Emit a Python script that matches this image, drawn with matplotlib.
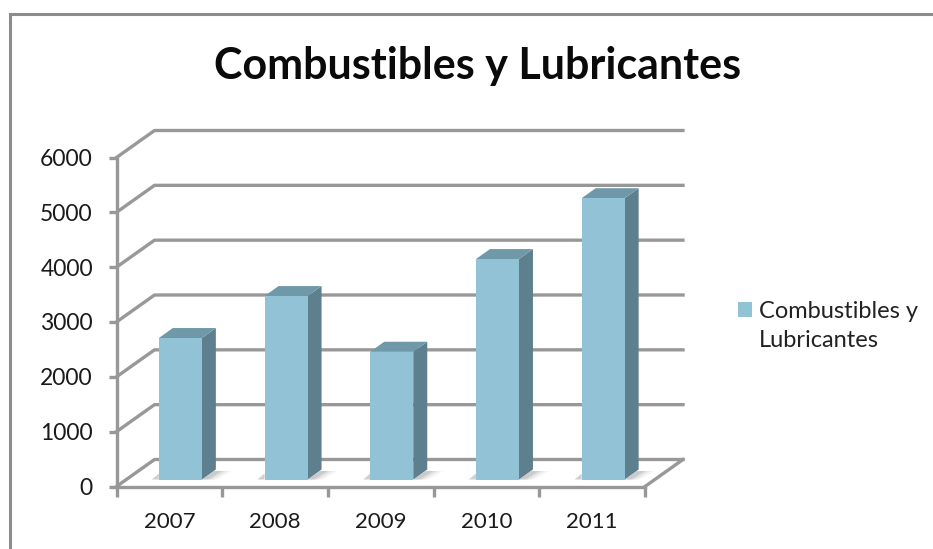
import matplotlib
matplotlib.use('Agg')
from matplotlib import pyplot as plt
from matplotlib.patches import Polygon

plt.rcParams['font.family'] = ['Lato', 'DejaVu Sans']

years = ['2007', '2008', '2009', '2010', '2011']
values = [2580, 3345, 2330, 4020, 5130]
yticks = [0, 1000, 2000, 3000, 4000, 5000, 6000]
series = 'Combustibles y\nLubricantes'

W, H = 933, 549
grid_col = '#989898'
front_col = '#92c2d6'
side_col = '#5e7f8d'
top_col = '#6f98a8'

fig = plt.figure(figsize=(W/100, H/100), dpi=100)

## frame of the chart area, only top and left are visible
bg = fig.add_axes([0, 0, 1, 1])
bg.set_xlim(0, W)
bg.set_ylim(H, 0)
bg.axis('off')
bg.plot([10, 10, W], [H, 14, 14], color='#8c8c8c', lw=2.2, solid_joinstyle='miter')

## axes box is the front plane of the fake 3d plot
left, right, top, bottom = 116.5, 645, 157.5, 486.5
ax = fig.add_axes([left/W, 1-bottom/H, (right-left)/W, (bottom-top)/H])
ax.set_xlim(0, len(years))
ax.set_ylim(0, 6000)
ax.patch.set_alpha(0)
for s in ax.spines.values():
	s.set_visible(False)

ux = (right-left)/len(years)   # px per category
uy = (bottom-top)/6000         # px per value
dx = 38/ux                     # depth of the plot
dy = 27/uy
lw = 2.4

## walls: gridlines run back then across
for v in yticks:
	ax.plot([0, dx, len(years)+dx], [v, v+dy, v+dy], color=grid_col, lw=lw, clip_on=False, zorder=1)
ax.plot([len(years), len(years)+dx], [0, dy], color=grid_col, lw=lw, clip_on=False, zorder=1)

## axis lines drawn on top of floor
ax.plot([0, 0], [0, 6000], color=grid_col, lw=lw, clip_on=False, zorder=2)
ax.plot([0, len(years)], [0, 0], color=grid_col, lw=lw, clip_on=False, zorder=2)

ax.set_xticks(range(len(years)+1))
ax.set_xticklabels([])
ax.set_yticks(yticks)
ax.set_yticklabels(yticks, fontsize=16.5, color='#1a1a1a')
ax.tick_params(axis='y', length=6, width=lw, color=grid_col, pad=11)
ax.tick_params(axis='x', length=7, width=lw, color=grid_col)

for i, y in enumerate(years):
	ax.text(i+0.5, -760, y, ha='center', va='baseline', fontsize=16, color='#1a1a1a')

## bars, front face sits a bit inside of the floor
bw = 43/ux
ox = 11/ux
oy = 7/uy
bx = 14/ux
by = 10/uy
for i, v in enumerate(values):
	x0 = i + 0.5 - bw/2 + ox
	x1 = x0 + bw
	h = v + oy
	# soft shadow on the floor, built from a few fading layers
	for k, a in [(1.8, 0.10), (1.4, 0.15), (1.0, 0.25), (0.7, 0.3)]:
		ax.add_patch(Polygon([[x1, oy], [x1+bx*0.9, oy+by*0.85], [x1+bx*(0.9+k*0.7), oy+by*0.85], [x1+bx*k*0.6, oy]],
			fc='#a8a8a8', ec='none', alpha=a, zorder=2.5, clip_on=False))
	ax.add_patch(Polygon([[x0-bx*0.5, oy], [x0, oy+by*0.6], [x0, oy]], fc='#cfcfcf', ec='none', zorder=2.5, clip_on=False))
	ax.bar(x0, v, bw, bottom=oy, align='edge', color=front_col, zorder=5, clip_on=False)
	ax.add_patch(Polygon([[x1, oy], [x1+bx, oy+by], [x1+bx, h+by], [x1, h]], fc=side_col, ec='none', zorder=4, clip_on=False))
	ax.add_patch(Polygon([[x0, h], [x0+bx, h+by], [x1+bx, h+by], [x1, h]], fc=top_col, ec='none', zorder=4, clip_on=False))

bg.text(478, 79, 'Combustibles y Lubricantes', ha='center', va='baseline', fontsize=31, fontweight='bold', color='#0a0a0a')

## legend
bg.add_patch(Polygon([[738, 302], [752, 302], [752, 317], [738, 317]], fc=front_col, ec='none'))
bg.text(759, 326, series, ha='left', va='center', fontsize=17, color='#222222', linespacing=1.45)

fig.savefig('out.png', dpi=100)
